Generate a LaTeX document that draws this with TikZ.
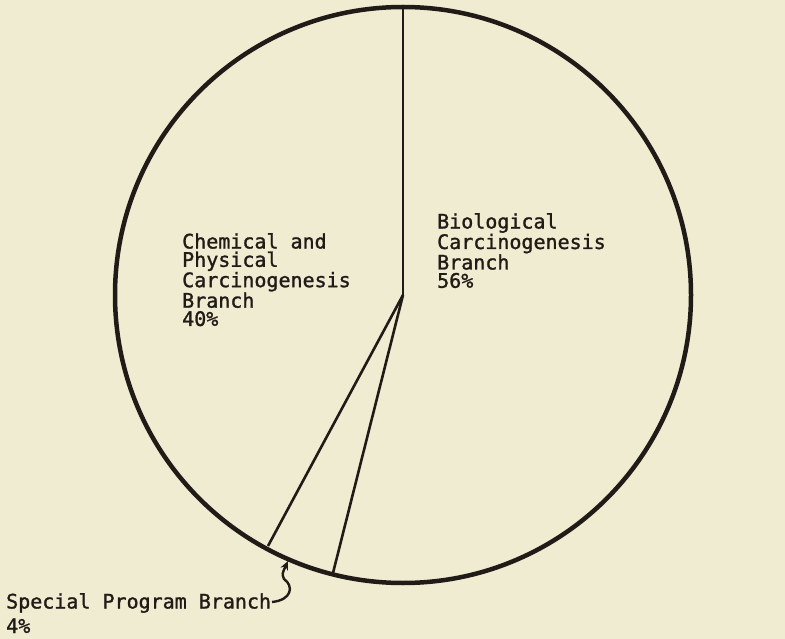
\documentclass[tikz,border=0pt]{standalone}
\usepackage{fontspec}
\newfontfamily\typer[FakeBold=1.3]{DejaVu Sans Mono}
\usetikzlibrary{arrows.meta,positioning}
\definecolor{paper}{RGB}{240,236,210}
\definecolor{ink}{RGB}{33,27,24}
\tikzset{
	label/.style={anchor=north west,inner sep=0pt,align=left,text=ink,
		font=\typer\fontsize{20}{18.3}\selectfont},
	rim/.style={draw=ink,line width=4.5pt},
	cut/.style={draw=ink,line width=2.6pt}
}
\begin{document}
\begin{tikzpicture}[x=1pt,y=-1pt]

		% page
		\fill[paper] (0,0) rectangle (785,639);
		\useasboundingbox (0,0) rectangle (785,639);

		% pie
		\coordinate (c) at (403,295);
		\coordinate (top) at (403,5);
		\coordinate (spl) at (268,546);
		\coordinate (spr) at (333,573);
		\draw[rim] (c) circle (288pt);
		\draw[cut] (top) -- (c);
		\draw[cut] (c) -- (spl);
		\draw[cut] (c) -- (spr);

		% Biological
		\node[label] (bio) at (437,213) {Biological\\Carcinogenesis\\Branch\\56\%};

		% Chemical
		\node[label] (chem) at (182,233) {Chemical and\\Physical\\Carcinogenesis\\Branch\\40\%};

		% Special
		\node[label,font=\typer\fontsize{20}{24.5}\selectfont] (spec) at (6,593) {Special Program Branch\\4\%};
		\coordinate (tip) at (288,561);
		\draw[ink,line width=2.4pt,-{Stealth[length=9pt,width=8pt]}]
			(272,602) .. controls (292,600) and (294,586) .. (284,579)
			.. controls (282,574) .. (tip);

\end{tikzpicture}
\end{document}
